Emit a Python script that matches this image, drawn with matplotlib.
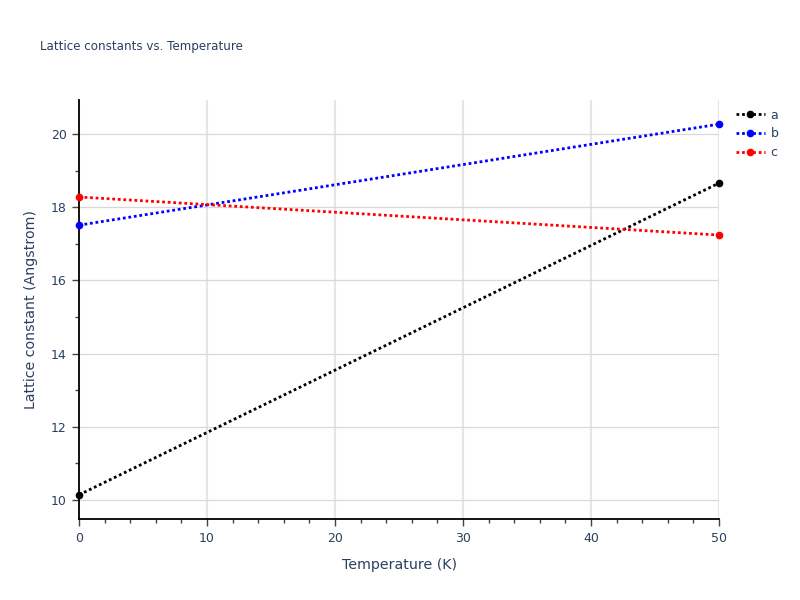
import matplotlib.pyplot as plt
from matplotlib.ticker import MultipleLocator

temperature = [0, 50]
lat_a = [10.14, 18.66]
lat_b = [17.51, 20.27]
lat_c = [18.28, 17.24]
series_names = ['a', 'b', 'c']
series_colors = ['black', 'blue', 'red']

fig = plt.figure(figsize=(8, 6), dpi=100)
ax = fig.add_axes([0.09875, 0.135, 0.8, 0.6983])

for vals, name, col in zip([lat_a, lat_b, lat_c], series_names, series_colors):
    ax.plot(temperature, vals, linestyle=(0, (1, 1)), linewidth=2, color=col,
            marker='o', markersize=4.5, label=name, clip_on=False, zorder=3)

ax.set_xlim(0, 50)
ax.set_ylim(9.48, 20.93)

ax.xaxis.set_major_locator(MultipleLocator(10))
ax.xaxis.set_minor_locator(MultipleLocator(2))
ax.yaxis.set_major_locator(MultipleLocator(2))
ax.yaxis.set_minor_locator(MultipleLocator(1))

txt = '#2a3f5f'
ax.tick_params(axis='both', which='major', direction='out', length=5, width=1,
               color='#444444', labelcolor=txt, labelsize=9, pad=4)
ax.tick_params(axis='both', which='minor', direction='out', length=3, width=1,
               color='#444444')

ax.grid(axis='x', which='major', color='#e5e5e5', linewidth=1.5)
ax.grid(axis='y', which='major', color='#d8d8d8', linewidth=0.9)
ax.set_axisbelow(True)

for side in ['top', 'right']:
    ax.spines[side].set_visible(False)
for side in ['left', 'bottom']:
    ax.spines[side].set_color('black')
    ax.spines[side].set_linewidth(1.3)

ax.set_xlabel('Temperature (K)', fontsize=10.2, color=txt, labelpad=10)
ax.set_ylabel('Lattice constant (Angstrom)', fontsize=10.2, color=txt, labelpad=9)
fig.text(0.05, 0.923, 'Lattice constants vs. Temperature', fontsize=8.6,
         color=txt, va='center', ha='left')

leg = ax.legend(loc='upper left', bbox_to_anchor=(1.013, 1.0), frameon=False,
                fontsize=9, labelcolor=txt, handlelength=2.3,
                handletextpad=0.45, labelspacing=0.45, borderaxespad=0.3)

fig.savefig('out.png', dpi=100)
